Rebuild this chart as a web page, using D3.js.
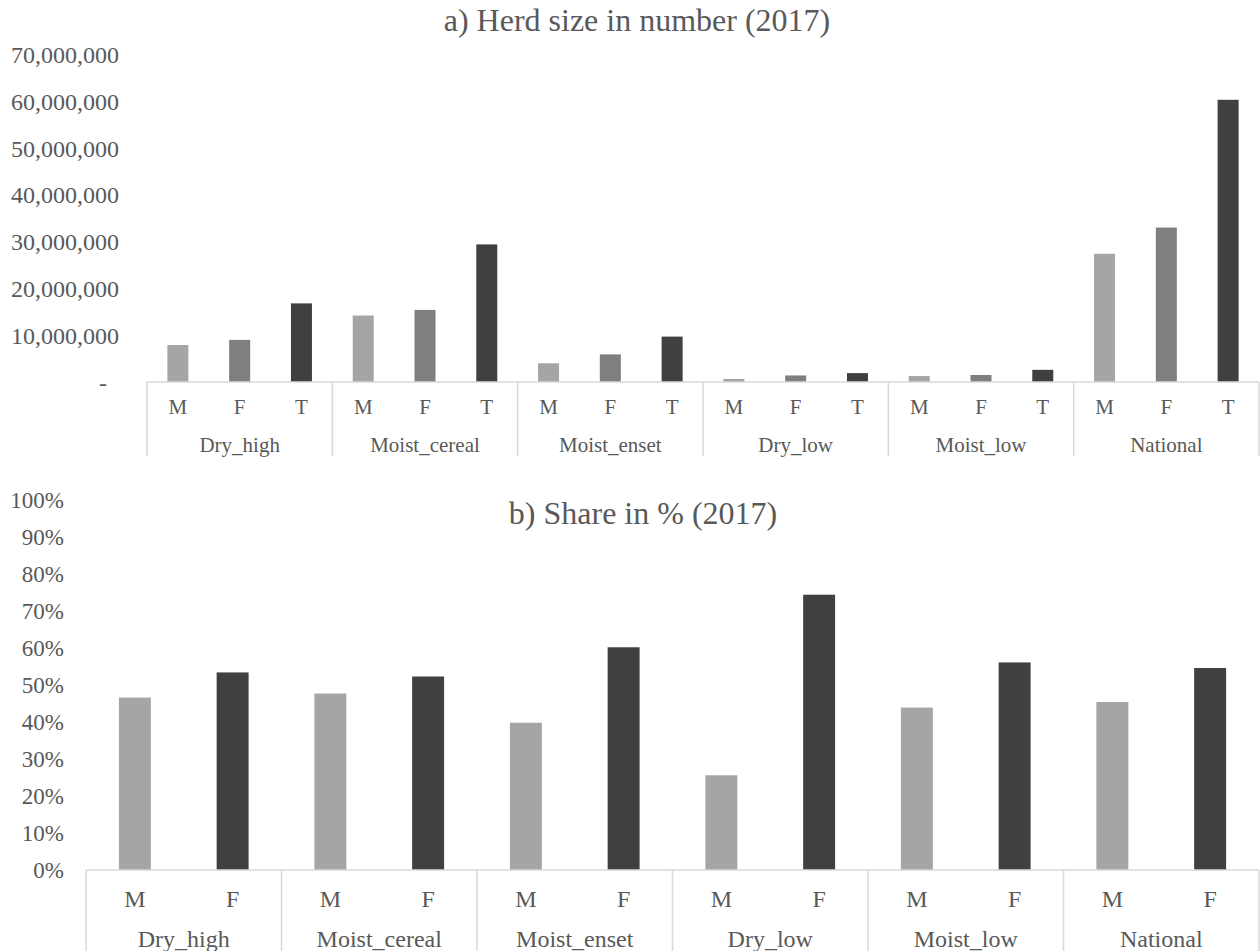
<!DOCTYPE html>
<html>
<head>
<meta charset="utf-8">
<script src="https://cdn.jsdelivr.net/npm/d3@7"></script>
</head>
<body style="margin:0">
<svg id="chart" width="1260" height="951"></svg>
<script>
// Regions (agro-ecological zones) and sub-categories
const zones = ["Dry_high", "Moist_cereal", "Moist_enset", "Dry_low", "Moist_low", "National"];
const herdKeys = ["M", "F", "T"];
const shareKeys = ["M", "F"];

// a) Herd size in number (2017)
const herdMale   = [7900000, 14200000, 4000000, 640000, 1280000, 27400000];
const herdFemale = [9000000, 15400000, 5900000, 1400000, 1500000, 33000000];
const herdTotal  = [16800000, 29400000, 9700000, 1900000, 2600000, 60300000];
const herdTicks  = [0, 10000000, 20000000, 30000000, 40000000, 50000000, 60000000, 70000000];

// b) Share in % (2017)
const shareMale   = [0.466, 0.477, 0.398, 0.256, 0.439, 0.454];
const shareFemale = [0.534, 0.523, 0.602, 0.744, 0.561, 0.546];
const shareTicks  = [0, 0.1, 0.2, 0.3, 0.4, 0.5, 0.6, 0.7, 0.8, 0.9, 1.0];

const colors = { M: "#a5a5a5", F: "#7f7f7f", T: "#404040" };
const shareColors = { M: "#a5a5a5", F: "#404040" };
const textColor = "#595959";
const lineColor = "#d9d9d9";
const serif = "Liberation Serif";

const svg = d3.select("#chart");

function panel(opts) {
  const g = svg.append("g");
  const x0 = d3.scaleBand().domain(zones).range([opts.left, opts.right]).paddingInner(0).paddingOuter(0);
  const x1 = d3.scaleBand().domain(opts.keys).range([0, x0.bandwidth()])
    .paddingInner(opts.pad).paddingOuter(opts.pad / 2);
  const y = d3.scaleLinear().domain(opts.domain).range([opts.base, opts.top]);

  // Title
  svg.append("text")
    .attr("x", opts.titleX).attr("y", opts.titleY)
    .attr("text-anchor", "middle")
    .attr("font-size", 32).attr("fill", textColor)
    .style("font-family", serif)
    .text(opts.title);

  // Y axis labels
  const yAxis = d3.axisLeft(y).tickValues(opts.ticks).tickSize(0).tickPadding(0).tickFormat(opts.fmt);
  const ya = g.append("g").attr("transform", `translate(${opts.labelX},0)`).call(yAxis)
    .attr("font-family", serif);
  ya.select(".domain").remove();
  ya.selectAll("text")
    .style("font-family", serif)
    .attr("font-size", opts.yFont).attr("fill", textColor).attr("dy", "0.34em");
  if (opts.zeroShift) {
    ya.selectAll(".tick").filter(d => d === 0).select("text").attr("dx", opts.zeroShift);
  }

  // Bars
  const rows = zones.map((z, i) => ({ zone: z, vals: opts.keys.map(k => ({ key: k, v: opts.series[k][i] })) }));
  g.append("g").selectAll("g").data(rows).join("g")
    .attr("transform", d => `translate(${x0(d.zone)},0)`)
    .selectAll("rect").data(d => d.vals).join("rect")
    .attr("x", d => x1(d.key))
    .attr("width", x1.bandwidth())
    .attr("y", d => y(d.v))
    .attr("height", d => y(0) - y(d.v))
    .attr("fill", d => opts.colors[d.key]);

  // Category axis line
  g.append("line")
    .attr("x1", opts.left).attr("x2", opts.right)
    .attr("y1", y(0)).attr("y2", y(0))
    .attr("stroke", lineColor).attr("stroke-width", 1.5);

  // Group separators
  const edges = zones.map(z => x0(z)).concat([opts.right]);
  g.append("g").selectAll("line").data(edges).join("line")
    .attr("x1", d => d).attr("x2", d => d)
    .attr("y1", y(0)).attr("y2", opts.sepBottom)
    .attr("stroke", lineColor).attr("stroke-width", 1.5);

  // Sub-category labels
  const subs = [];
  zones.forEach(z => opts.keys.forEach(k => subs.push({ z, k })));
  g.append("g").selectAll("text").data(subs).join("text")
    .attr("x", d => x0(d.z) + x1(d.k) + x1.bandwidth() / 2)
    .attr("y", opts.subY)
    .attr("text-anchor", "middle")
    .attr("font-size", opts.catFont).attr("fill", textColor)
    .style("font-family", serif)
    .text(d => d.k);

  // Group labels
  g.append("g").selectAll("text").data(zones).join("text")
    .attr("x", d => x0(d) + x0.bandwidth() / 2)
    .attr("y", opts.groupY)
    .attr("text-anchor", "middle")
    .attr("font-size", opts.catFont).attr("fill", textColor)
    .style("font-family", serif)
    .text(d => d);
}

panel({
  title: "a) Herd size in number (2017)",
  titleX: 637, titleY: 31,
  keys: herdKeys,
  series: { M: herdMale, F: herdFemale, T: herdTotal },
  colors: colors,
  domain: [0, 70000000], ticks: herdTicks,
  fmt: d => d === 0 ? "-" : d3.format(",")(d),
  zeroShift: -12,
  left: 147, right: 1259, base: 382, top: 54.4,
  pad: 0.66,
  labelX: 119, yFont: 24, catFont: 21,
  subY: 414, groupY: 452, sepBottom: 456
});

panel({
  title: "b) Share in % (2017)",
  titleX: 643, titleY: 524,
  keys: shareKeys,
  series: { M: shareMale, F: shareFemale },
  colors: shareColors,
  domain: [0, 1], ticks: shareTicks,
  fmt: d3.format(".0%"),
  left: 86, right: 1259, base: 870, top: 500,
  pad: 0.673,
  labelX: 64, yFont: 23, catFont: 24,
  subY: 907, groupY: 947, sepBottom: 951
});
</script>
</body>
</html>
